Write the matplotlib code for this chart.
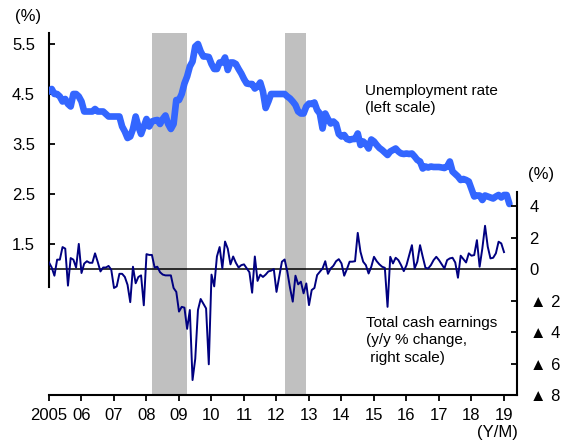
import numpy as np
import matplotlib
matplotlib.use("Agg")
import matplotlib.pyplot as plt

plt.rcParams["font.family"] = ["Liberation Sans", "DejaVu Sans"]
plt.rcParams["font.size"] = 11

# monthly data, Jan 2005 onwards
unemployment = [
    4.55, 4.6, 4.5, 4.5, 4.45, 4.35, 4.4, 4.3, 4.25, 4.5, 4.5, 4.45,      # 2005
    4.35, 4.15, 4.15, 4.15, 4.15, 4.2, 4.15, 4.15, 4.15, 4.1, 4.05, 4.05,  # 2006
    4.05, 4.05, 4.05, 3.85, 3.75, 3.62, 3.65, 3.8, 4.05, 3.85, 3.7, 3.85,  # 2007
    4.0, 3.85, 3.95, 3.97, 3.98, 3.9, 4.0, 4.07, 3.9, 3.8, 3.9, 4.38,      # 2008
    4.38, 4.5, 4.71, 4.85, 5.05, 5.15, 5.45, 5.5, 5.35, 5.25, 5.25, 5.24,  # 2009
    5.1, 5.0, 5.0, 5.13, 5.13, 5.23, 4.98, 5.13, 5.13, 5.1, 5.0, 4.91,     # 2010
    4.8, 4.71, 4.7, 4.7, 4.61, 4.65, 4.73, 4.55, 4.22, 4.35, 4.5, 4.5,     # 2011
    4.5, 4.5, 4.5, 4.5, 4.45, 4.41, 4.35, 4.28, 4.15, 4.11, 4.11, 4.25,    # 2012
    4.31, 4.3, 4.33, 4.18, 4.11, 3.81, 4.11, 4.0, 3.91, 3.95, 3.9, 3.7,    # 2013
    3.65, 3.68, 3.6, 3.58, 3.6, 3.6, 3.71, 3.48, 3.55, 3.5, 3.41, 3.59,    # 2014
    3.55, 3.48, 3.42, 3.38, 3.33, 3.28, 3.35, 3.38, 3.41, 3.35, 3.31, 3.3, # 2015
    3.31, 3.3, 3.31, 3.25, 3.18, 3.15, 3.01, 3.05, 3.03, 3.05, 3.04, 3.04, # 2016
    3.04, 3.03, 3.02, 3.05, 3.15, 2.95, 2.9, 2.85, 2.78, 2.8, 2.78, 2.75,  # 2017
    2.6, 2.45, 2.47, 2.47, 2.38, 2.47, 2.45, 2.43, 2.41, 2.45, 2.48, 2.43, # 2018
    2.48, 2.48, 2.3,                                                       # 2019
]

earnings = [
    0.42, 0.1, -0.42, 0.6, 0.6, 1.4, 1.3, -1.05, 0.7, 0.6, 0.1, 1.6,
    -0.25, 0.35, 0.5, 0.4, 0.4, 1.0, 0.45, -0.15, 0.1, 0.1, 0.2, -0.05,
    -1.2, -1.1, -0.3, -0.3, -0.5, -1.0, -2.1, 0.15, -0.9, -0.5, -0.4, -2.3,
    0.95, 0.9, 0.9, 0.1, 0.15, -0.2, -0.35, -0.4, -0.4, -0.4, -1.2, -1.45,
    -2.7, -2.4, -2.45, -3.8, -2.6, -7.05, -5.7, -2.6, -1.9, -2.2, -2.5, -6.05,
    -0.35, -1.1, 0.8, 1.4, 0.05, 1.75, 1.3, 0.3, 0.8, 0.4, 0.1, 0.25,
    0.3, 0.05, -0.2, -1.5, 0.8, -0.75, -0.35, -0.5, -0.35, -0.15, -0.1, 0.0,
    -1.45, -0.5, 0.47, 0.61, -0.17, -1.2, -2.07, -0.42, -0.97, -0.8, -1.54, -0.91,
    -2.29, -1.33, -1.2, -0.38, -0.17, 0.04, 0.5, -0.3, 0.04, 0.21, 0.5, 0.63,
    0.36, -0.42, 0.0, 0.47, 0.47, 0.5, 2.3, 1.1, 0.47, 0.25, -0.28, 0.15,
    0.78, 0.5, 0.3, 0.15, 0.08, -2.4, 0.78, 0.36, 0.72, 0.57, 0.25, -0.13,
    0.25, 0.89, 1.52, 0.04, 0.47, 1.52, 0.78, 0.08, 0.04, 0.25, 0.57, 0.78,
    0.57, 0.3, 0.04, 0.57, 0.68, 0.72, 0.42, -0.55, 0.85, 0.63, 0.42, 1.0,
    0.85, 0.89, 1.84, 0.15, 1.31, 2.75, 1.42, 0.68, 0.72, 1.0, 1.74, 1.63,
    1.08,
]

# recession periods (shaded)
recessions = [(2008 + 2 / 12, 2009 + 3 / 12), (2012 + 3 / 12, 2012 + 11 / 12)]

years = list(range(2005, 2020))
year_labels = ["2005"] + ["%02d" % (y % 100) for y in years[1:]]
left_ticks = [1.5, 2.5, 3.5, 4.5, 5.5]
right_ticks = [-8, -6, -4, -2, 0, 2, 4]
right_labels = ["▲ 8", "▲ 6", "▲ 4", "▲ 2", "0", "2", "4"]

t_u = 2005 + np.arange(len(unemployment)) / 12
t_e = 2005 + np.arange(len(earnings)) / 12

fig = plt.figure(figsize=(5.65, 4.41), dpi=100)
ax = fig.add_axes([49 / 565, 46 / 441, 468 / 565, 362 / 441])
ax2 = ax.twinx()

for start, end in recessions:
    ax.axvspan(start, end, color="#c0c0c0", lw=0, zorder=0)

ax.plot(t_u, unemployment, color="#3366ff", lw=4.8, solid_capstyle="round", zorder=3)
ax2.axhline(0, color="black", lw=1.1, zorder=1)
ax2.plot(t_e, earnings, color="#000080", lw=1.4, zorder=2)

ax.set_xlim(2005, 2019.4)
ax.set_ylim(-1.52, 5.72)
ax2.set_ylim(-8, 15)

ax.set_xticks(years)
ax.set_xticklabels(year_labels)
ax.set_yticks(left_ticks)
ax.set_yticklabels([f"{v:.1f}" for v in left_ticks])
ax2.set_yticks(right_ticks)
ax2.set_yticklabels(right_labels)

for a in (ax, ax2):
    for s in a.spines.values():
        s.set_linewidth(1.5)
ax.spines["top"].set_visible(False)
ax.spines["right"].set_visible(False)
ax.spines["left"].set_bounds(0.65, 5.72)
ax2.spines["top"].set_visible(False)
ax2.spines["left"].set_visible(False)
ax2.spines["bottom"].set_visible(False)
ax2.spines["right"].set_bounds(-8, 4.9)

ax.tick_params(axis="x", direction="out", length=4, width=1.3, pad=5, labelsize=12)
ax.tick_params(axis="y", direction="in", length=4, width=1.3, pad=10, labelsize=12)
ax2.tick_params(axis="y", direction="in", length=4, width=1.3, pad=9, labelsize=12)
for lab in ax2.get_yticklabels():
    lab.set_horizontalalignment("left")

fig.text(28 / 565, 1 - 17 / 441, "(%)", ha="center", va="center", fontsize=12)
fig.text(541 / 565, 1 - 175 / 441, "(%)", ha="center", va="center", fontsize=12)
fig.text(518 / 565, 1 - 432 / 441, "(Y/M)", ha="right", va="center", fontsize=12)
fig.text(365 / 565, 1 - 84 / 441, "Unemployment rate\n(left scale)",
         ha="left", va="top", fontsize=11, linespacing=1.3)
fig.text(366 / 565, 1 - 316 / 441, "Total cash earnings\n(y/y % change,\n right scale)",
         ha="left", va="top", fontsize=11, linespacing=1.3)

fig.savefig("out.png", dpi=100)
